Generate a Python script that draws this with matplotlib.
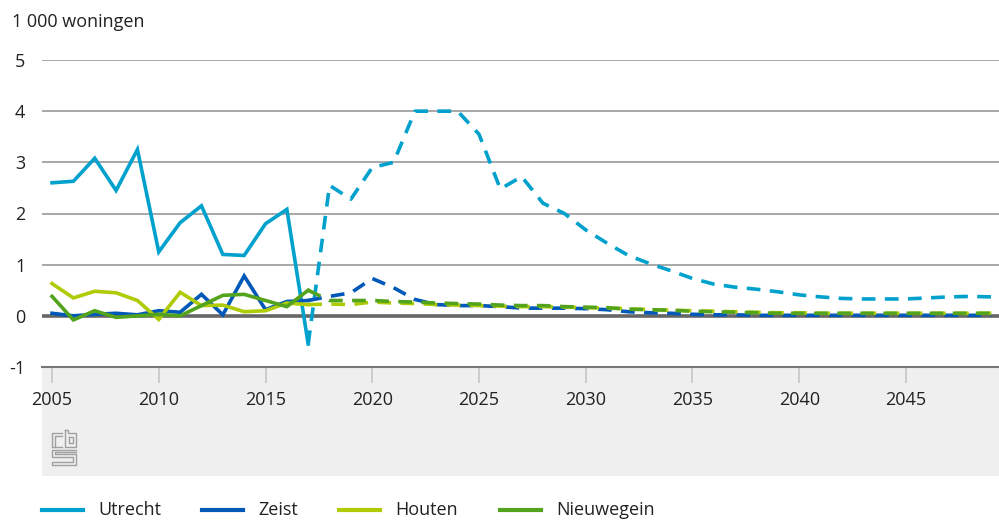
import matplotlib
matplotlib.use('Agg')
import matplotlib.pyplot as plt
from matplotlib.patches import Rectangle
from matplotlib.lines import Line2D

# Years
hist_years = list(range(2005, 2018))
proj_years = list(range(2017, 2050))

# Historical values (1 000 woningen)
utrecht_hist = [2.60, 2.63, 3.08, 2.45, 3.25, 1.25, 1.82, 2.15, 1.20, 1.18, 1.80, 2.08, -0.55]
zeist_hist = [0.05, 0.00, 0.03, 0.05, 0.02, 0.10, 0.07, 0.42, 0.02, 0.78, 0.12, 0.28, 0.30]
houten_hist = [0.63, 0.35, 0.48, 0.45, 0.30, -0.07, 0.46, 0.20, 0.21, 0.08, 0.10, 0.25, 0.22]
nieuwegein_hist = [0.38, -0.08, 0.10, -0.03, 0.00, 0.03, 0.00, 0.20, 0.40, 0.42, 0.30, 0.18, 0.50]

# Projections
utrecht_proj = [-0.55, 2.55, 2.28, 2.90, 3.00, 4.00, 4.00, 4.00, 3.55, 2.48, 2.72, 2.20,
                2.00, 1.68, 1.42, 1.18, 1.02, 0.88, 0.73, 0.62, 0.56, 0.52, 0.47, 0.41,
                0.37, 0.34, 0.33, 0.33, 0.33, 0.35, 0.37, 0.38, 0.37]
zeist_proj = [0.30, 0.38, 0.45, 0.73, 0.55, 0.32, 0.22, 0.20, 0.20, 0.18, 0.15, 0.15,
              0.15, 0.14, 0.12, 0.08, 0.06, 0.05, 0.03, 0.02, 0.02, 0.01, 0.01, 0.01,
              0.01, 0.01, 0.01, 0.01, 0.01, 0.01, 0.01, 0.01, 0.01]
houten_proj = [0.22, 0.23, 0.22, 0.27, 0.25, 0.24, 0.22, 0.21, 0.20, 0.19, 0.18, 0.18,
               0.17, 0.16, 0.15, 0.14, 0.12, 0.11, 0.10, 0.09, 0.08, 0.07, 0.06, 0.06,
               0.05, 0.05, 0.05, 0.05, 0.05, 0.05, 0.05, 0.05, 0.05]
nieuwegein_proj = [0.50, 0.30, 0.30, 0.30, 0.28, 0.27, 0.25, 0.24, 0.23, 0.21, 0.20, 0.20,
                   0.18, 0.17, 0.16, 0.13, 0.12, 0.11, 0.09, 0.08, 0.07, 0.06, 0.05, 0.05,
                   0.05, 0.05, 0.05, 0.05, 0.05, 0.05, 0.05, 0.05, 0.05]

names = ['Utrecht', 'Zeist', 'Houten', 'Nieuwegein']
colors = ['#00a1cd', '#0058b8', '#afcb05', '#53a31d']
x_ticks = list(range(2005, 2050, 5))
y_ticks = [-1, 0, 1, 2, 3, 4, 5]

plt.rcParams['font.family'] = ['Open Sans', 'DejaVu Sans']

W, H = 999, 521
fig = plt.figure(figsize=(W / 100, H / 100), dpi=100)

def fx(px):
    return px / W

def fy(py):
    return 1 - py / H

# grey band below the plot
fig.add_artist(Rectangle((fx(42), fy(476)), fx(999 - 42), (476 - 367) / H,
                         transform=fig.transFigure, facecolor='#efefef',
                         edgecolor='none', zorder=0))

ax = fig.add_axes([fx(42), fy(367), fx(999 - 42), (367 - 60) / H])
ax.set_facecolor('none')

series = [
    (utrecht_hist, utrecht_proj),
    (zeist_hist, zeist_proj),
    (houten_hist, houten_proj),
    (nieuwegein_hist, nieuwegein_proj),
]
order = [1, 2, 3, 0]
for i in order:
    h, p = series[i]
    ax.plot(hist_years, h, color=colors[i], lw=2.6, solid_joinstyle='miter', zorder=3 + i)
    ax.plot(proj_years, p, color=colors[i], lw=2.6, linestyle=(0, (3.8, 2.6)), zorder=3 + i)

ax.set_xlim(2004.53, 2049.36)
ax.set_ylim(-1, 5)
ax.set_yticks(y_ticks)
ax.set_yticklabels([str(v) for v in y_ticks])
ax.set_xticks(x_ticks)
ax.set_xticklabels([str(v) for v in x_ticks])

for v in y_ticks:
    if v == 0:
        ax.axhline(v, color='#666666', lw=2.6, zorder=2)
    elif v == -1:
        ax.axhline(v, color='#777777', lw=1.5, zorder=2, clip_on=False)
    else:
        ax.axhline(v, color='#a8a8a8', lw=1.4, zorder=1)

for s in ax.spines.values():
    s.set_visible(False)

ax.tick_params(axis='y', length=0, pad=12, labelsize=13, labelcolor='#222222')
ax.tick_params(axis='x', length=11.5, width=1.4, color='#cccccc', pad=6,
               labelsize=13, labelcolor='#222222')

fig.text(fx(12), fy(22), '1 000 woningen', fontsize=13, color='#222222',
         ha='left', va='center')

# cbs logo (simple outline)
logo_color = '#a0a0a0'
logo_lines = [
    [(52, 447), (52, 433), (62, 433)],
    [(55, 447), (55, 436), (62, 436)],
    [(52, 447), (62, 447)],
    [(65, 430), (65, 447), (76, 447), (76, 433), (68, 433), (68, 430), (65, 430)],
    [(69, 437), (73, 437), (73, 443), (69, 443), (69, 437)],
    [(76, 450), (52, 450), (52, 457), (73, 457), (73, 462), (52, 462), (52, 465), (76, 465), (76, 454), (55, 454), (55, 452), (76, 452)],
]
for pts in logo_lines:
    fig.add_artist(Line2D([fx(a) for a, b in pts], [fy(b) for a, b in pts],
                          color=logo_color, lw=1.0, transform=fig.transFigure))

# legend
leg_x = [42, 202, 339, 500]
for name, c, x0 in zip(names, colors, leg_x):
    fig.add_artist(Line2D([fx(x0), fx(x0 + 41)], [fy(510), fy(510)], color=c, lw=3,
                          transform=fig.transFigure))
    fig.text(fx(x0 + 56), fy(510), name, fontsize=13, color='#222222',
             ha='left', va='center')

fig.savefig('out.png', dpi=100)
